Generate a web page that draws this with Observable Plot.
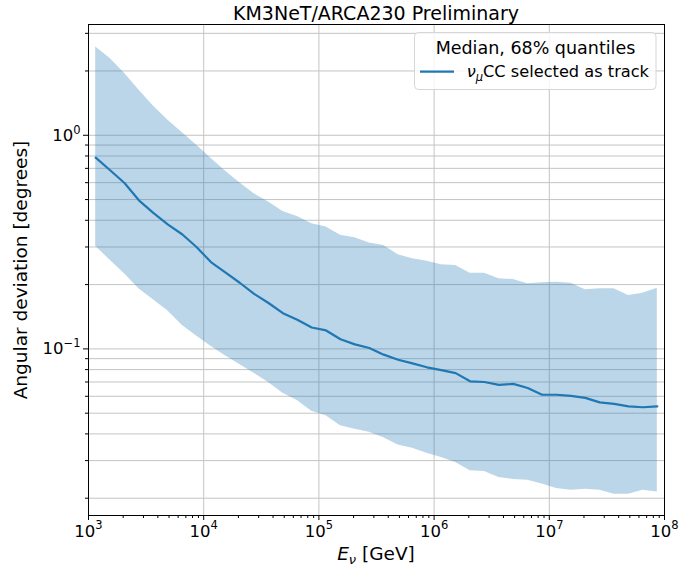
<!DOCTYPE html>
<html>
<head>
<meta charset="utf-8">
<script src="https://cdn.jsdelivr.net/npm/d3@7"></script>
<script src="https://cdn.jsdelivr.net/npm/@observablehq/plot@0.6"></script>
<style>
  html, body { margin: 0; padding: 0; background: white; }
</style>
</head>
<body>
<div id="chart"></div>
<script>
// log10 of bin-centre energies [GeV]
const logE = [3.0625, 3.1875, 3.3125, 3.4375, 3.5625, 3.6875, 3.8125, 3.9375,
  4.0625, 4.1875, 4.3125, 4.4375, 4.5625, 4.6875, 4.8125, 4.9375,
  5.0625, 5.1875, 5.3125, 5.4375, 5.5625, 5.6875, 5.8125, 5.9375,
  6.0625, 6.1875, 6.3125, 6.4375, 6.5625, 6.6875, 6.8125, 6.9375,
  7.0625, 7.1875, 7.3125, 7.4375, 7.5625, 7.6875, 7.8125, 7.9375];
// median angular deviation [deg]
const median = [0.786, 0.686, 0.598, 0.496, 0.433, 0.383, 0.344, 0.300,
  0.255, 0.228, 0.204, 0.181, 0.164, 0.147, 0.137, 0.126,
  0.122, 0.111, 0.105, 0.101, 0.094, 0.089, 0.0855, 0.082,
  0.0795, 0.077, 0.0705, 0.070, 0.0678, 0.0686, 0.0656, 0.0610,
  0.0610, 0.0603, 0.0590, 0.0562, 0.0553, 0.0538, 0.0533, 0.0538];
// 84% quantile (upper)
const upper = [2.59, 2.29, 1.95, 1.63, 1.37, 1.18, 1.03, 0.90,
  0.78, 0.68, 0.60, 0.533, 0.487, 0.440, 0.417, 0.385,
  0.372, 0.340, 0.331, 0.313, 0.305, 0.276, 0.264, 0.257,
  0.248, 0.246, 0.226, 0.226, 0.213, 0.211, 0.202, 0.204,
  0.205, 0.203, 0.189, 0.191, 0.191, 0.178, 0.182, 0.192];
// 16% quantile (lower)
const lower = [0.302, 0.260, 0.225, 0.191, 0.170, 0.151, 0.129, 0.115,
  0.103, 0.093, 0.0845, 0.077, 0.0696, 0.0620, 0.0573, 0.0510,
  0.0487, 0.0437, 0.0421, 0.0407, 0.0384, 0.0355, 0.0343, 0.0325,
  0.0310, 0.0294, 0.0269, 0.0267, 0.0250, 0.0245, 0.0243, 0.0233,
  0.0222, 0.0218, 0.0220, 0.0218, 0.0209, 0.0209, 0.0218, 0.0214];

const xMajor = [1e3, 1e4, 1e5, 1e6, 1e7, 1e8];
const xMinor = [];
for (let e = 3; e < 8; e++) for (let m = 2; m <= 9; m++) xMinor.push(m * 10 ** e);
const yMajor = [0.1, 1];
const yMinor = [0.02,0.03,0.04,0.05,0.06,0.07,0.08,0.09,0.2,0.3,0.4,0.5,0.6,0.7,0.8,0.9,2,3];
const yGrid = yMajor.concat(yMinor);

const rows = logE.map((l, i) => ({E: 10 ** l, med: median[i], lo: lower[i], hi: upper[i]}));

const blue = "#1f77b4";
const gridColor = "#c4c4c4";
const FONT = "DejaVu Sans";

const svg = Plot.plot({
  width: 680,
  height: 570,
  marginLeft: 88,
  marginRight: 16,
  marginTop: 24,
  marginBottom: 55,
  style: {fontFamily: FONT, background: "white", color: "black", overflow: "visible"},
  x: {type: "log", domain: [1e3, 1e8]},
  y: {type: "log", domain: [0.0166, 3.30]},
  marks: [
    Plot.gridX(xMajor, {stroke: gridColor, strokeOpacity: 1, strokeWidth: 1}),
    Plot.gridY(yGrid, {stroke: gridColor, strokeOpacity: 1, strokeWidth: 1}),
    Plot.areaY(rows, {x: "E", y1: "lo", y2: "hi", fill: blue, fillOpacity: 0.3}),
    Plot.lineY(rows, {x: "E", y: "med", stroke: blue, strokeWidth: 2.2}),
    Plot.axisX(xMajor, {tickSize: 5, tickPadding: 5, fontSize: 16.5, label: null,
      tickFormat: d => "10^" + Math.round(Math.log10(d))}),
    Plot.axisX(xMinor, {tickSize: 3, label: null, tickFormat: () => ""}),
    Plot.axisY(yMajor, {tickSize: 5, tickPadding: 3, fontSize: 16.5, label: null,
      tickFormat: d => "10^" + Math.round(Math.log10(d))}),
    Plot.axisY(yMinor, {tickSize: 3, label: null, tickFormat: () => ""}),
    Plot.frame({stroke: "black", strokeWidth: 1})
  ]
});

document.getElementById("chart").appendChild(svg);
const s = d3.select(svg);

function supify(sel, supDy) {
  sel.each(function () {
    const t = this.textContent;
    if (!t.includes("^")) return;
    const [b, e] = t.split("^");
    this.textContent = b;
    d3.select(this).append("tspan")
      .attr("font-size", 11.5)
      .attr("dy", supDy)
      .text(e.replace("-", "\u2212"));
  });
}
supify(s.selectAll('g[aria-label="x-axis tick label"] text'), -8);
supify(s.selectAll('g[aria-label="y-axis tick label"] text'), -7);

// Title
s.append("text")
  .attr("x", 376).attr("y", 20)
  .attr("text-anchor", "middle")
  .attr("font-family", FONT).attr("font-size", 19)
  .attr("fill", "black")
  .text("KM3NeT/ARCA230 Preliminary");

// x label
const xl = s.append("text")
  .attr("x", 376).attr("y", 560)
  .attr("text-anchor", "middle")
  .attr("font-family", FONT).attr("font-size", 18.5)
  .attr("fill", "black");
xl.append("tspan").attr("font-style", "italic").text("E");
xl.append("tspan").attr("font-style", "italic").attr("font-size", 13).attr("dy", 4).text("ν");
xl.append("tspan").attr("dy", -4).text(" [GeV]");

// y label
s.append("text")
  .attr("transform", "translate(27,270) rotate(-90)")
  .attr("text-anchor", "middle")
  .attr("font-family", FONT).attr("font-size", 18.5)
  .attr("fill", "black")
  .text("Angular deviation [degrees]");

// Legend
const lg = s.append("g");
lg.append("rect")
  .attr("x", 414.5).attr("y", 32.5).attr("width", 241.5).attr("height", 57)
  .attr("rx", 4).attr("fill", "white").attr("fill-opacity", 0.8)
  .attr("stroke", "#d6d6d6");
lg.append("text")
  .attr("x", 535.5).attr("y", 53.5)
  .attr("text-anchor", "middle")
  .attr("font-family", FONT).attr("font-size", 17.5)
  .attr("fill", "black")
  .text("Median, 68% quantiles");
lg.append("line")
  .attr("x1", 420).attr("x2", 454).attr("y1", 71.7).attr("y2", 71.7)
  .attr("stroke", blue).attr("stroke-width", 2.2);
const et = lg.append("text")
  .attr("x", 466.7).attr("y", 77.3)
  .attr("text-anchor", "start")
  .attr("font-family", FONT).attr("font-size", 16.2)
  .attr("fill", "black");
et.append("tspan").attr("font-style", "italic").text("ν");
et.append("tspan").attr("font-style", "italic").attr("font-size", 11.5).attr("dy", 3.5).text("μ");
et.append("tspan").attr("dy", -3.5).text("CC selected as track");
</script>
</body>
</html>
